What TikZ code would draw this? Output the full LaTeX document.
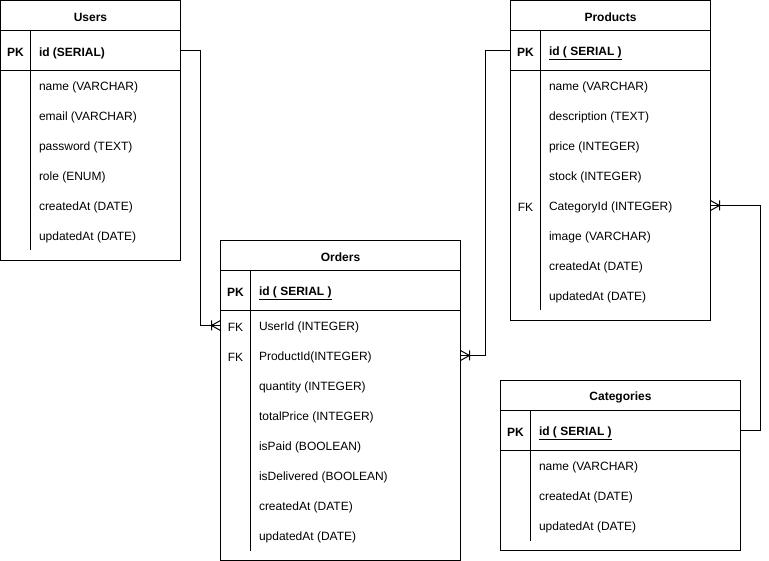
\documentclass[tikz,border=0pt]{standalone}
\usepackage{fontspec}
\setmainfont{Liberation Sans}
\usetikzlibrary{arrows.meta,calc,positioning}

\tikzset{
	txt/.style={yshift=-1.5pt},
	hdr/.style={txt, font=\fontsize{12}{14}\selectfont\bfseries},
	fld/.style={txt, anchor=west, inner sep=0pt},
	manyfoot/.pic={\draw (0,-5) -- (-9,0) -- (0,5) (-9,-5) -- (-9,5);}
}

\begin{document}
\begin{tikzpicture}[x=1pt, y=-1pt, line width=1pt, font=\fontsize{12}{14}\selectfont]
		\useasboundingbox (-0.5,-0.5) rectangle (768.5,560.5);
		
		% Users
		\draw (0,0) rectangle (180,260);
		\draw (0,30) -- (180,30) (0,70) -- (180,70) (30,30) -- (30,250);
		\node[hdr] (users) at (90,15) {Users};
		\node[hdr] (userspkl) at (15,50) {PK};
		\node[hdr, fld] (userspk) at (38,50) {id (SERIAL)};
		\foreach \f [count=\i] in {name (VARCHAR), email (VARCHAR), password (TEXT), role (ENUM), createdAt (DATE), updatedAt (DATE)}
			\node[fld] (users\i) at (38,55+30*\i) {\f};
		
		% Orders
		\draw (220,240) rectangle (460,560);
		\draw (220,270) -- (460,270) (220,310) -- (460,310) (250,270) -- (250,550);
		\node[hdr] (orders) at (340,255) {Orders};
		\node[hdr] (orderspkl) at (235,290) {PK};
		\node[hdr, fld] (orderspk) at (258,290) {\underline{id ( SERIAL )}};
		\node[txt] (ordersfk1) at (235,325) {FK};
		\node[txt] (ordersfk2) at (235,355) {FK};
		\foreach \f [count=\i] in {UserId (INTEGER), ProductId(INTEGER), quantity (INTEGER), totalPrice (INTEGER), isPaid (BOOLEAN), isDelivered (BOOLEAN), createdAt (DATE), updatedAt (DATE)}
			\node[fld] (orders\i) at (258,295+30*\i) {\f};
		
		% Products
		\draw (510,0) rectangle (710,320);
		\draw (510,30) -- (710,30) (510,70) -- (710,70) (540,30) -- (540,310);
		\node[hdr] (products) at (610,15) {Products};
		\node[hdr] (productspkl) at (525,50) {PK};
		\node[hdr, fld] (productspk) at (548,50) {\underline{id ( SERIAL )}};
		\node[txt] (productsfk) at (525,205) {FK};
		\foreach \f [count=\i] in {name (VARCHAR), description (TEXT), price (INTEGER), stock (INTEGER), CategoryId (INTEGER), image (VARCHAR), createdAt (DATE), updatedAt (DATE)}
			\node[fld] (products\i) at (548,55+30*\i) {\f};
		
		% Categories
		\draw (500,380) rectangle (740,550);
		\draw (500,410) -- (740,410) (500,450) -- (740,450) (530,410) -- (530,540);
		\node[hdr] (categories) at (620,395) {Categories};
		\node[hdr] (categoriespkl) at (515,430) {PK};
		\node[hdr, fld] (categoriespk) at (538,430) {\underline{id ( SERIAL )}};
		\foreach \f [count=\i] in {name (VARCHAR), createdAt (DATE), updatedAt (DATE)}
			\node[fld] (categories\i) at (538,435+30*\i) {\f};
		
		% relations
		\coordinate (userspkE) at (180,50);
		\coordinate (ordersuserW) at (220,325);
		\coordinate (productspkW) at (510,50);
		\coordinate (ordersproductE) at (460,355);
		\coordinate (categoriespkE) at (740,430);
		\coordinate (productscatE) at (710,205);
		
		\draw (userspkE) -- ++(20,0) |- (ordersuserW);
		\pic at (ordersuserW) {manyfoot};
		\draw (productspkW) -- ++(-25,0) |- (ordersproductE);
		\pic[rotate=180] at (ordersproductE) {manyfoot};
		\draw (categoriespkE) -- ++(20,0) |- (productscatE);
		\pic[rotate=180] at (productscatE) {manyfoot};
	\end{tikzpicture}
\end{document}
